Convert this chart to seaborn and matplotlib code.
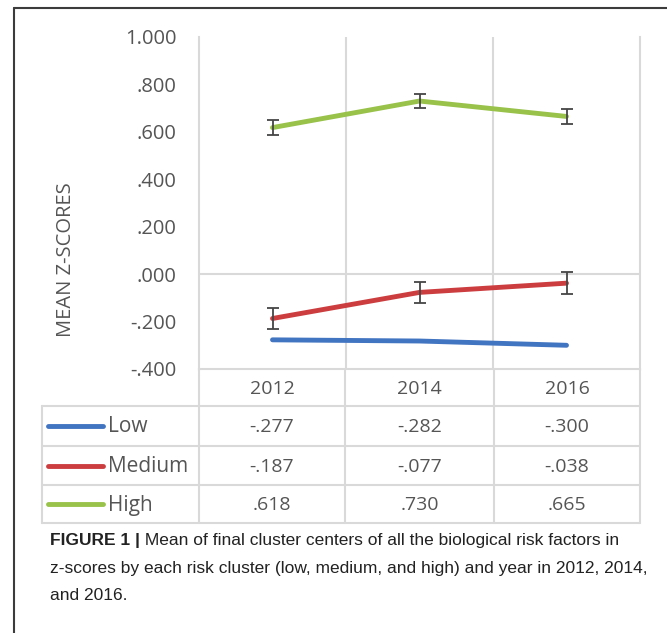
import numpy as np
import pandas as pd
import matplotlib
matplotlib.use('Agg')
import matplotlib.pyplot as plt
import seaborn as sns

# data
years = ['2012', '2014', '2016']
groups = ['Low', 'Medium', 'High']
low = [-0.277, -0.282, -0.300]
medium = [-0.187, -0.077, -0.038]
high = [0.618, 0.730, 0.665]
medium_err = [0.043, 0.044, 0.046]
high_err = [0.033, 0.030, 0.033]
y_ticks = [-0.4, -0.2, 0.0, 0.2, 0.4, 0.6, 0.8, 1.0]
colors = ['#4174c1', '#cc3d3f', '#98c24a']

caption_bold = 'FIGURE 1 |'
caption_rest = (' Mean of final cluster centers of all the biological risk factors in')
caption_lines = ['z-scores by each risk cluster (low, medium, and high) and year in 2012, 2014,',
                 'and 2016.']


def fmt(v):
    s = '%.3f' % v
    return s.replace('0.', '.', 1)


sns.set_style('white')
plt.rcParams['font.family'] = ['Open Sans', 'DejaVu Sans']

W, H = 667, 633
fig = plt.figure(figsize=(W / 100, H / 100), dpi=100)

# plot area in pixels
L, R, T, B = 199, 640, 37, 369
ax = fig.add_axes([L / W, 1 - B / H, (R - L) / W, (B - T) / H])

df = pd.DataFrame({
    'pos': list(range(3)) * 3,
    'value': low + medium + high,
    'group': [g for g in groups for _ in range(3)],
})
sns.lineplot(data=df, x='pos', y='value', hue='group', hue_order=groups,
             palette=colors, lw=3.5, legend=False, ax=ax, sort=False)
ax.errorbar(range(3), medium, yerr=medium_err, fmt='none', ecolor='#454545',
            elinewidth=1.3, capsize=4, capthick=1.3, zorder=3)
ax.errorbar(range(3), high, yerr=high_err, fmt='none', ecolor='#454545',
            elinewidth=1.3, capsize=4, capthick=1.3, zorder=3)

grid_c = '#d9d9d9'
txt_c = '#555555'
ax.set_xlim(-0.5, 2.5)
ax.set_ylim(-0.4, 1.0)
ax.set_xticks([])
ax.set_yticks(y_ticks)
ax.set_yticklabels([fmt(v) for v in y_ticks], fontsize=14.5, color=txt_c)
ax.tick_params(axis='y', length=0, pad=16)
ax.set_xlabel('')
ax.set_ylabel('')
for x in [0.5, 1.5]:
    ax.axvline(x, color=grid_c, lw=1.5, zorder=0)
ax.axhline(0, color=grid_c, lw=1.5, zorder=0)
ax.spines['top'].set_visible(False)
for s in ['left', 'right', 'bottom']:
    ax.spines[s].set_color(grid_c)
    ax.spines[s].set_linewidth(1.5)

fig.text(66 / W, 1 - 260 / H, 'MEAN Z-SCORES', rotation=90, ha='center',
         va='center', fontsize=14.5, color=txt_c)

# overlay for table, border and caption (pixel coords)
ov = fig.add_axes([0, 0, 1, 1], zorder=-1)
ov.set_xlim(0, W)
ov.set_ylim(H, 0)
ov.axis('off')

col_x = [L, 345, 494, R]
col_c = [(col_x[i] + col_x[i + 1]) / 2 for i in range(3)]
row_y = [B, 406, 446, 485, 523]
tl = 42
for x in col_x:
    ov.plot([x, x], [B, row_y[-1]], color=grid_c, lw=1.5)
ov.plot([tl, tl], [row_y[1], row_y[-1]], color=grid_c, lw=1.5)
for i, y in enumerate(row_y[1:]):
    ov.plot([tl, R], [y, y], color=grid_c, lw=1.5)

for c, yr in zip(col_c, years):
    ov.text(c, (row_y[0] + row_y[1]) / 2 + 1, yr, ha='center', va='center',
            fontsize=14, color=txt_c)
series = [low, medium, high]
for i, (g, vals, col) in enumerate(zip(groups, series, colors)):
    yc = (row_y[i + 1] + row_y[i + 2]) / 2
    ov.plot([48, 103], [yc, yc], color=col, lw=3.5, solid_capstyle='round')
    ov.text(108, yc + 1, g, ha='left', va='center', fontsize=15, color=txt_c)
    for c, v in zip(col_c, vals):
        ov.text(c, yc + 1, fmt(v), ha='center', va='center', fontsize=14,
                color=txt_c)

# figure frame
ov.plot([13.5, 13.5], [8, H], color='#3c3c3c', lw=1.5)
ov.plot([13.5, W], [8, 8], color='#3c3c3c', lw=1.5)

cap_font = ['Liberation Sans Narrow', 'Liberation Sans', 'DejaVu Sans']
t = ov.text(50, 541, caption_bold, ha='left', va='center', fontsize=12.5,
            fontweight='bold', family=cap_font, color='#222222')
ov.annotate(caption_rest, xy=(1, 0), xycoords=t, ha='left', va='bottom',
            fontsize=12.5, family=cap_font, color='#222222')
for k, line in enumerate(caption_lines):
    ov.text(50, 568 + 27 * k, line, ha='left', va='center', fontsize=12.5,
            family=cap_font, color='#222222')

fig.savefig('out.png', dpi=100)
